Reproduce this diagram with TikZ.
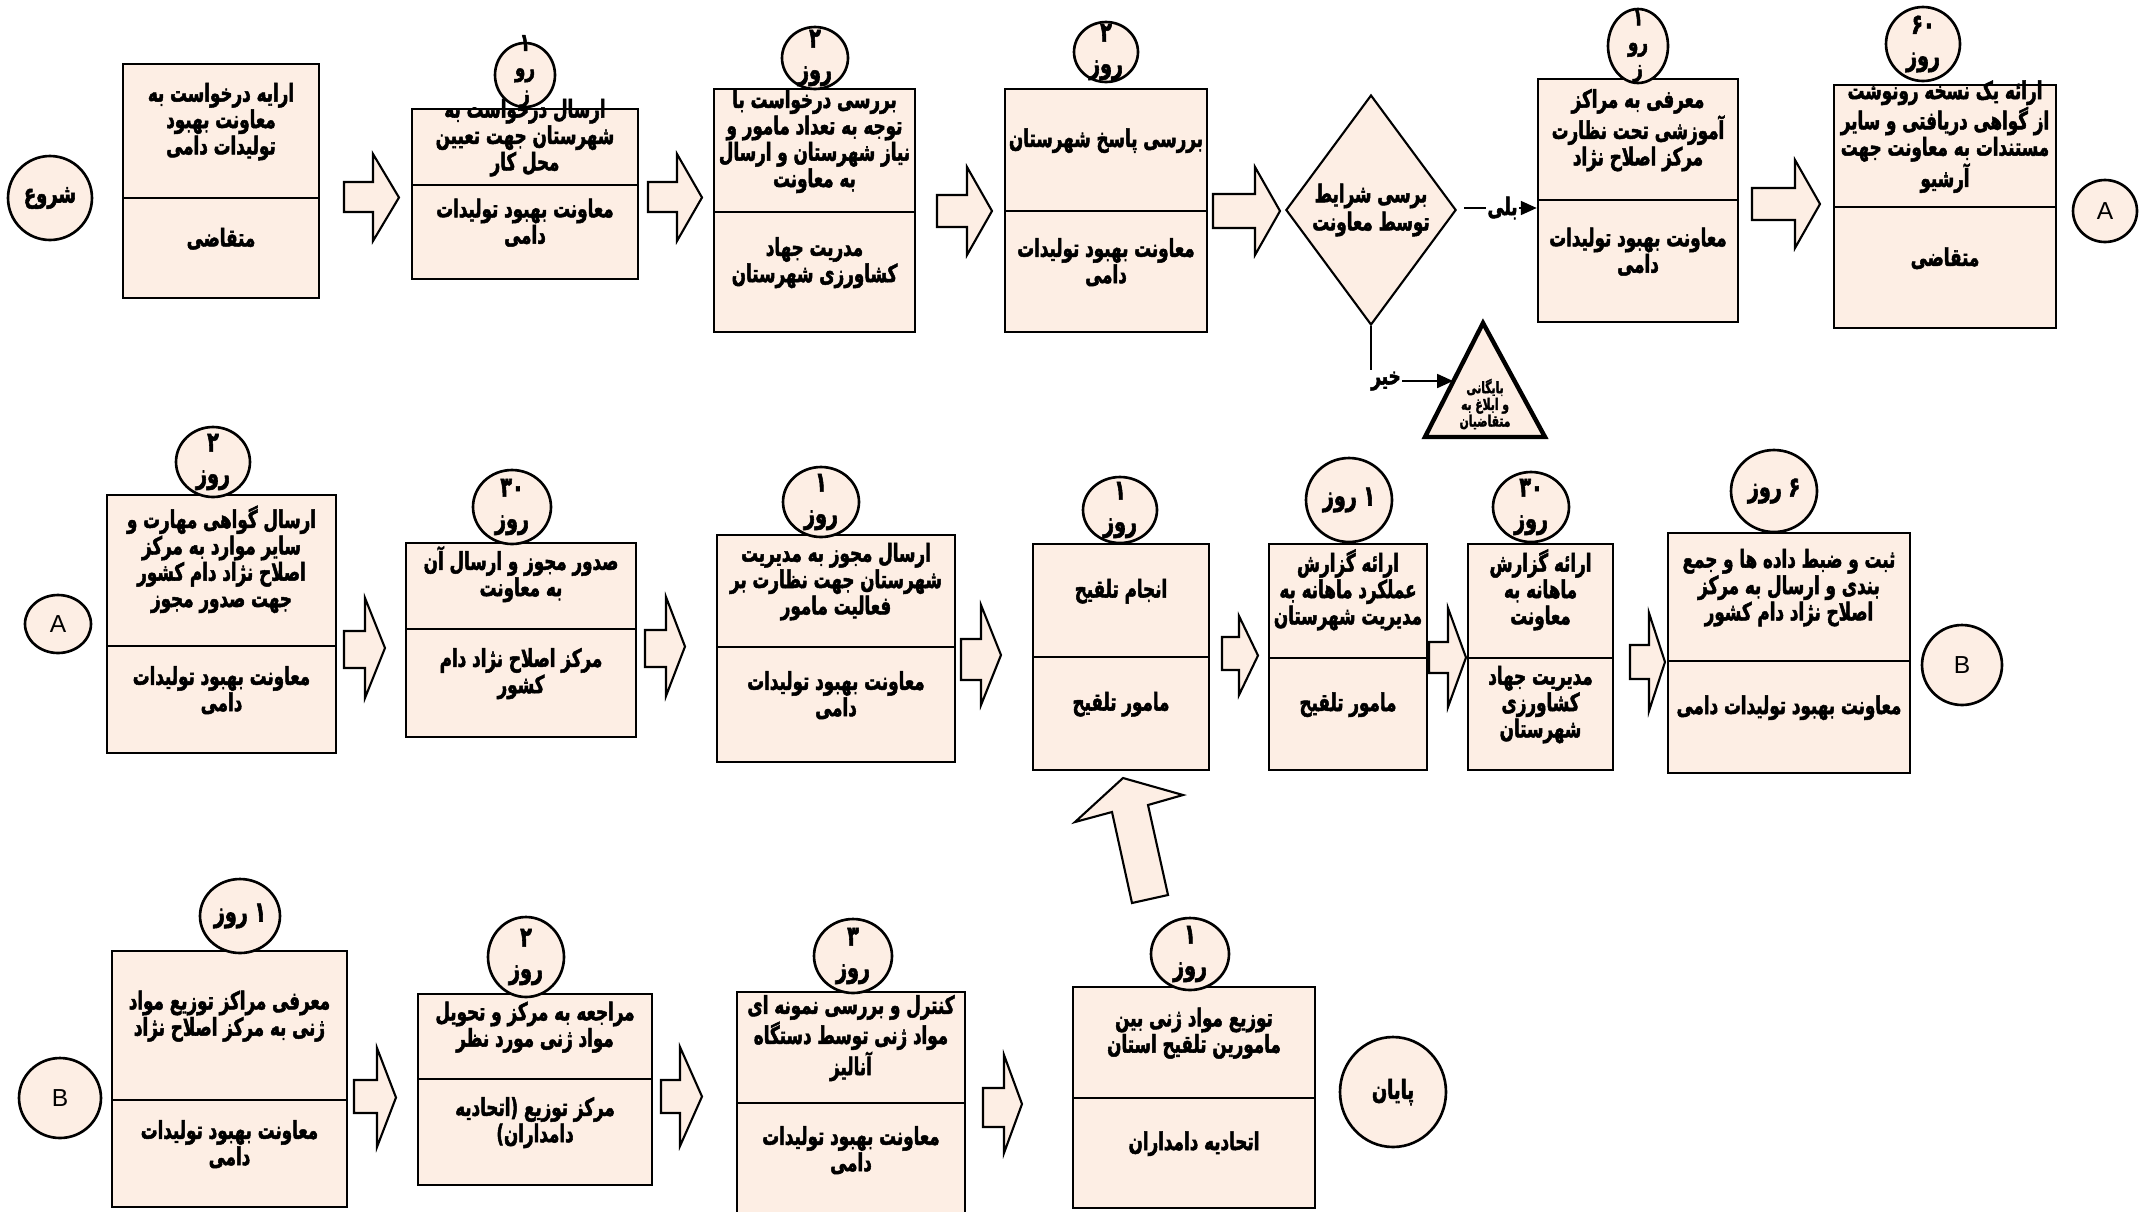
\documentclass[tikz,border=0pt]{standalone}
\usepackage{fontspec}
\setmainfont{Liberation Sans}
\newfontfamily\farsi[Script=Arabic,FakeStretch=0.68,BoldFeatures={FakeBold=2}]{DejaVu Sans}
\TeXXeTstate=1
\usetikzlibrary{
    arrows.meta,
    fit, % box parts sized from their corners
    shapes.geometric
}
\definecolor{peach}{RGB}{253,238,228}
\newcommand{\fatarrow}[7]{%
    \draw[fatarr] (#1,#5) -- (#3,#5) -- (#3,#4) -- (#2,{(#4+#7)/2})
        -- (#3,#7) -- (#3,#6) -- (#1,#6) -- cycle;}

\tikzset{
    part/.style={draw, line width=1.5pt, fill=peach, inner sep=0pt, align=center,
        font=\farsi\bfseries\fontsize{14}{15}\selectfont},
    tightpart/.style={part, font=\farsi\bfseries\fontsize{14}{13.5}\selectfont},
    daycirc/.style={ellipse, draw, line width=1.5pt, fill=peach, inner sep=0pt},
    daytxt/.style={align=center, inner sep=0pt, font=\farsi\bfseries\fontsize{16}{18}\selectfont},
    tightday/.style={daytxt, font=\farsi\bfseries\fontsize{14}{14.5}\selectfont},
    linkcirc/.style={daycirc, font=\fontsize{14}{16}\selectfont},
    decision/.style={diamond, draw, line width=1.2pt, fill=peach, inner sep=0pt, align=center,
        font=\farsi\bfseries\fontsize{14}{16}\selectfont},
    fatarr/.style={draw, line width=1.2pt, fill=peach, line join=miter},
    flow/.style={line width=0.8pt, -{Triangle[length=9pt,width=8pt]}},
    flowlabel/.style={fill=white, inner sep=1pt, font=\farsi\bfseries\fontsize{14}{14}\selectfont}
}

\begin{document}
\begin{tikzpicture}[x=0.02cm, y=-0.02cm]
    \clip (0,0) rectangle (2140,1211);

    % first row
    \node[daycirc, minimum width=1.68cm, minimum height=1.68cm,
          label={[daytxt, font=\farsi\bfseries\fontsize{15}{15}\selectfont]center:{\beginR شروع\endR}}] (start) at (50,198) {};
    \node[part, fit={(123,64) (319,198)}] (b1top) {\beginR ارایه درخواست به\endR\\\beginR معاونت بهبود\endR\\\beginR تولیدات دامی\endR};
    \node[part, fit={(123,198) (319,298)}] (b1bot) {\beginR متقاضی\endR};
    \fatarrow{344}{399}{373}{154}{182}{212}{241}
    \node[tightpart, fit={(412,109) (638,185)}] (b2top) {\beginR ارسال درخواست به\endR\\\beginR شهرستان جهت تعیین\endR\\\beginR محل کار\endR};
    \node[part, fit={(412,185) (638,279)}] (b2bot) {\beginR معاونت بهبود تولیدات\endR\\\beginR دامی\endR};
    \node[daycirc, minimum width=1.2cm, minimum height=1.28cm,
          label={[tightday, yshift=2pt]center:{\beginR ۱\endR\\\beginR رو\endR\\\beginR ز\endR}}] (d2) at (525,75) {};
    \fatarrow{648}{702}{677}{154}{182}{212}{241}
    \node[part, fit={(714,89) (915,212)}] (b3top) {\beginR بررسی درخواست با\endR\\\beginR توجه به تعداد مامور و\endR\\\beginR نیاز شهرستان و ارسال\endR\\\beginR به معاونت\endR};
    \node[part, fit={(714,212) (915,332)}] (b3bot) {\beginR مدریت جهاد\endR\\\beginR کشاورزی شهرستان\endR};
    \node[daycirc, minimum width=1.32cm, minimum height=1.24cm,
          label={[daytxt]center:{\beginR ۲\endR\\\beginR روز\endR}}] (d3) at (815,58) {};
    \fatarrow{937}{992}{967}{167}{195}{227}{255}
    \node[part, fit={(1005,89) (1207,211)}] (b4top) {\beginR بررسی پاسخ شهرستان\endR};
    \node[part, fit={(1005,211) (1207,332)}] (b4bot) {\beginR معاونت بهبود تولیدات\endR\\\beginR دامی\endR};
    \node[daycirc, minimum width=1.28cm, minimum height=1.2cm,
          label={[daytxt]center:{\beginR ۲\endR\\\beginR روز\endR}}] (d4) at (1106,52) {};
    \fatarrow{1213}{1280}{1255}{167}{194}{228}{255}
    \node[decision, minimum width=3.04cm, minimum height=4.6cm] (dec) at (1371,210) {\beginR برسی شرایط\endR\\\beginR توسط معاونت\endR};
    \node[part, fit={(1538,79) (1738,200)}] (b5top) {\beginR معرفی به مراکز\endR\\\beginR آموزشی تحت نظارت\endR\\\beginR مرکز اصلاح نژاد\endR};
    \node[part, fit={(1538,200) (1738,322)}] (b5bot) {\beginR معاونت بهبود تولیدات\endR\\\beginR دامی\endR};
    \node[daycirc, minimum width=1.2cm, minimum height=1.48cm,
          label={[tightday]center:{\beginR ۱\endR\\\beginR رو\endR\\\beginR ز\endR}}] (d5) at (1638,46) {};
    \fatarrow{1752}{1820}{1795}{160}{188}{220}{248}
    \node[part, fit={(1834,85) (2056,207)}] (b6top) {\beginR ارائه یک نسخه رونوشت\endR\\\beginR از گواهی دریافتی و سایر\endR\\\beginR مستندات به معاونت جهت\endR\\\beginR آرشیو\endR};
    \node[part, fit={(1834,207) (2056,328)}] (b6bot) {\beginR متقاضی\endR};
    \node[daycirc, minimum width=1.48cm, minimum height=1.48cm,
          label={[daytxt]center:{\beginR ۶۰\endR\\\beginR روز\endR}}] (d6) at (1923,44) {};
    \node[linkcirc, minimum width=1.28cm, minimum height=1.24cm] (linkA) at (2105,211) {A};

    % yes / no branches
    \draw[line width=2.5pt, fill=peach, line join=miter] (1483,323) -- (1545,437) -- (1425,437) -- cycle;
    \node[align=center, inner sep=0pt, font=\farsi\bfseries\fontsize{9}{9.5}\selectfont] (arch) at (1485,404)
        {\beginR بایگانی\endR\\\beginR و ابلاغ به\endR\\\beginR متقاضیان\endR};
    \coordinate (archin) at (1453,381);
    \coordinate (yesfrom) at (1464,208);
    \draw[flow] (yesfrom) -- (yesfrom -| b5bot.west) node[pos=0.53, flowlabel] {\beginR بلی\endR};
    \draw[flow] (dec.south) |- (archin) node[pos=0.5, flowlabel, xshift=0.3cm] {\beginR خیر\endR};

    % second row
    \node[linkcirc, minimum width=1.32cm, minimum height=1.16cm] (linkA2) at (58,624) {A};
    \node[part, fit={(107,495) (336,646)}] (b7top) {\beginR ارسال گواهی مهارت و\endR\\\beginR سایر موارد به مرکز\endR\\\beginR اصلاح نژاد دام کشور\endR\\\beginR جهت صدور مجوز\endR};
    \node[part, fit={(107,646) (336,753)}] (b7bot) {\beginR معاونت بهبود تولیدات\endR\\\beginR دامی\endR};
    \node[daycirc, minimum width=1.48cm, minimum height=1.4cm,
          label={[daytxt]center:{\beginR ۲\endR\\\beginR روز\endR}}] (d7) at (213,462) {};
    \fatarrow{344}{385}{365}{598}{631}{668}{698}
    \node[part, fit={(406,543) (636,629)}] (b8top) {\beginR صدور مجوز و ارسال آن\endR\\\beginR به معاونت\endR};
    \node[part, fit={(406,629) (636,737)}] (b8bot) {\beginR مرکز  اصلاح نژاد دام\endR\\\beginR کشور\endR};
    \node[daycirc, minimum width=1.56cm, minimum height=1.48cm,
          label={[daytxt]center:{\beginR ۳۰\endR\\\beginR روز\endR}}] (d8) at (512,507) {};
    \fatarrow{645}{685}{666}{597}{630}{667}{696}
    \node[part, fit={(717,535) (955,647)}] (b9top) {\beginR ارسال مجوز به مدیریت\endR\\\beginR شهرستان  جهت نظارت بر\endR\\\beginR فعالیت مامور\endR};
    \node[part, fit={(717,647) (955,762)}] (b9bot) {\beginR معاونت بهبود تولیدات\endR\\\beginR دامی\endR};
    \node[daycirc, minimum width=1.52cm, minimum height=1.4cm,
          label={[daytxt]center:{\beginR ۱\endR\\\beginR روز\endR}}] (d9) at (821,502) {};
    \fatarrow{961}{1001}{981}{605}{639}{680}{705}
    \node[part, fit={(1033,544) (1209,657)}] (b10top) {\beginR انجام تلقیح\endR};
    \node[part, fit={(1033,657) (1209,770)}] (b10bot) {\beginR مامور تلقیح\endR};
    \node[daycirc, minimum width=1.48cm, minimum height=1.32cm,
          label={[daytxt]center:{\beginR ۱\endR\\\beginR روز\endR}}] (d10) at (1120,510) {};
    \fatarrow{1222}{1258}{1239}{616}{637}{670}{695}
    \node[part, fit={(1269,544) (1427,658)}] (b11top) {\beginR ارائه گزارش\endR\\\beginR عملکرد ماهانه به\endR\\\beginR مدیریت شهرستان\endR};
    \node[part, fit={(1269,658) (1427,770)}] (b11bot) {\beginR مامور تلقیح\endR};
    \node[daycirc, minimum width=1.72cm, minimum height=1.68cm,
          label={[daytxt]center:{\beginR ۱ روز\endR}}] (d11) at (1349,500) {};
    \fatarrow{1429}{1466}{1448}{608}{642}{673}{707}
    \node[part, fit={(1468,544) (1613,658)}] (b12top) {\beginR ارائه گزارش\endR\\\beginR ماهانه به\endR\\\beginR معاونت\endR};
    \node[part, fit={(1468,658) (1613,770)}] (b12bot) {\beginR مدیریت جهاد\endR\\\beginR کشاورزی\endR\\\beginR شهرستان\endR};
    \node[daycirc, minimum width=1.52cm, minimum height=1.4cm,
          label={[daytxt]center:{\beginR ۳۰\endR\\\beginR روز\endR}}] (d12) at (1531,507) {};
    \fatarrow{1630}{1665}{1649}{613}{645}{679}{711}
    \node[part, fit={(1668,533) (1910,661)}] (b13top) {\beginR ثبت و ضبط داده ها و جمع\endR\\\beginR بندی و ارسال به مرکز\endR\\\beginR اصلاح نژاد دام کشور\endR};
    \node[part, fit={(1668,661) (1910,773)}] (b13bot) {\beginR معاونت بهبود تولیدات دامی\endR};
    \node[daycirc, minimum width=1.72cm, minimum height=1.64cm,
          label={[daytxt]center:{\beginR ۶ روز\endR}}] (d13) at (1774,491) {};
    \node[linkcirc, minimum width=1.6cm, minimum height=1.6cm] (linkB) at (1962,665) {B};

    % third row
    \node[linkcirc, minimum width=1.64cm, minimum height=1.6cm] (linkB2) at (60,1098) {B};
    \node[part, fit={(112,951) (347,1100)}] (b14top) {\beginR معرفی مراکز توزیع مواد\endR\\\beginR ژنی به مرکز اصلاح نژاد\endR};
    \node[part, fit={(112,1100) (347,1207)}] (b14bot) {\beginR معاونت بهبود تولیدات\endR\\\beginR دامی\endR};
    \node[daycirc, minimum width=1.6cm, minimum height=1.48cm,
          label={[daytxt]center:{\beginR ۱ روز\endR}}] (d14) at (240,916) {};
    \fatarrow{354}{396}{377}{1048}{1080}{1113}{1147}
    \node[part, fit={(418,994) (652,1079)}] (b15top) {\beginR مراجعه به مرکز و تحویل\endR\\\beginR مواد ژنی مورد نظر\endR};
    \node[part, fit={(418,1079) (652,1185)}] (b15bot) {\beginR مرکز توزیع (اتحادیه\endR\\\beginR دامداران)\endR};
    \node[daycirc, minimum width=1.52cm, minimum height=1.6cm,
          label={[daytxt]center:{\beginR ۲\endR\\\beginR روز\endR}}] (d15) at (526,957) {};
    \fatarrow{661}{702}{680}{1047}{1080}{1113}{1146}
    \node[part, fit={(737,992) (965,1103)}] (b16top) {\beginR کنترل و بررسی نمونه ای\endR\\\beginR مواد ژنی توسط دستگاه\endR\\\beginR آنالیز\endR};
    \node[part, fit={(737,1103) (965,1216)}] (b16bot) {\beginR معاونت بهبود تولیدات\endR\\\beginR دامی\endR};
    \node[daycirc, minimum width=1.56cm, minimum height=1.48cm,
          label={[daytxt]center:{\beginR ۳\endR\\\beginR روز\endR}}] (d16) at (853,956) {};
    \fatarrow{983}{1022}{1004}{1055}{1088}{1127}{1153}
    \node[part, fit={(1073,987) (1315,1098)}] (b17top) {\beginR توزیع مواد ژنی بین\endR\\\beginR مامورین تلقیح استان\endR};
    \node[part, fit={(1073,1098) (1315,1208)}] (b17bot) {\beginR اتحادیه دامداران\endR};
    \node[daycirc, minimum width=1.56cm, minimum height=1.44cm,
          label={[daytxt]center:{\beginR ۱\endR\\\beginR روز\endR}}] (d17) at (1190,954) {};
    \node[daycirc, minimum width=2.12cm, minimum height=2.2cm,
          label={[daytxt, font=\farsi\bfseries\fontsize{15}{15}\selectfont]center:{\beginR پایان\endR}}] (finish) at (1393,1092) {};

    % tilted arrow up to the inoculation step
    \draw[fatarr] (1123,778) -- (1183,795) -- (1148,805) -- (1168,895)
        -- (1132,903) -- (1112,812) -- (1075,822) -- cycle;
\end{tikzpicture}
\end{document}
